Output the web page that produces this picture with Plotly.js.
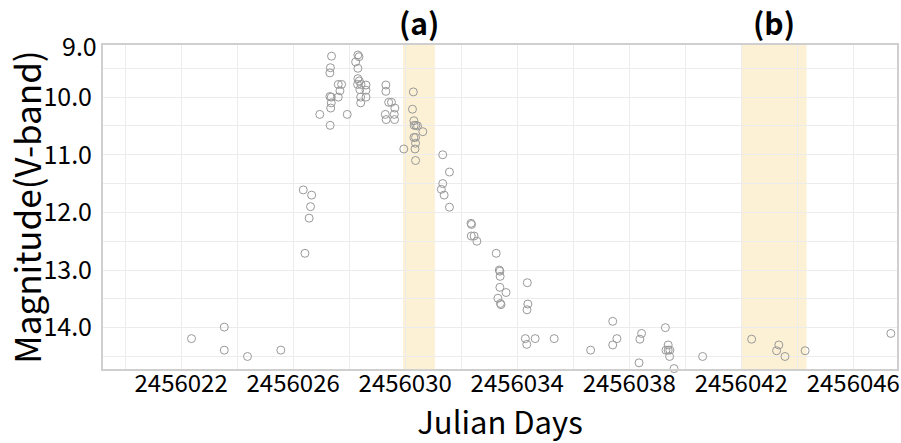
<!DOCTYPE html>
<html>
<head>
<meta charset="utf-8">
<script src="https://cdn.plot.ly/plotly-3.0.1.min.js"></script>
<style>html,body{margin:0;padding:0;background:#fff;}#chart{width:901px;height:443px;}</style>
</head>
<body>
<div id="chart"></div>
<script>
// Julian Days of the observations
const julianDays = [
  2456022.37, 2456023.54, 2456023.54, 2456024.37, 2456025.56,
  2456026.36, 2456026.66, 2456026.62, 2456026.57, 2456026.42,
  2456026.95, 2456027.37, 2456027.33, 2456027.31, 2456027.61, 2456027.73, 2456027.67,
  2456027.31, 2456027.36, 2456027.61, 2456027.36, 2456027.34, 2456027.32, 2456027.93,
  2456028.30, 2456028.31, 2456028.35, 2456028.23, 2456028.31, 2456028.31, 2456028.36,
  2456028.30, 2456028.42, 2456028.60, 2456028.38, 2456028.60, 2456028.41, 2456028.60, 2456028.41,
  2456029.31, 2456029.31, 2456029.41, 2456029.51, 2456029.63, 2456029.61, 2456029.29, 2456029.32, 2456029.62,
  2456029.95, 2456030.29, 2456030.26, 2456030.31, 2456030.32, 2456030.38, 2456030.44, 2456030.63,
  2456030.31, 2456030.37, 2456030.37, 2456030.35, 2456030.37,
  2456031.34, 2456031.58, 2456031.34, 2456031.29, 2456031.39, 2456031.58,
  2456032.35, 2456032.37, 2456032.36, 2456032.46, 2456032.56,
  2456033.25, 2456033.36, 2456033.38, 2456033.39, 2456033.38, 2456033.60, 2456033.31, 2456033.40, 2456033.42,
  2456034.36, 2456034.38, 2456034.35, 2456034.29, 2456034.34, 2456034.64, 2456035.32,
  2456036.62, 2456037.41, 2456037.56, 2456037.41, 2456038.44, 2456038.38, 2456038.35,
  2456039.29, 2456039.39, 2456039.31, 2456039.39, 2456039.45, 2456039.44, 2456039.60,
  2456040.62, 2456042.37, 2456043.34, 2456043.26, 2456043.56, 2456044.28, 2456047.34
];
// V-band magnitudes
const magnitudes = [
  14.19, 13.99, 14.39, 14.50, 14.39,
  11.61, 11.70, 11.90, 12.10, 12.71,
  10.30, 9.29, 9.49, 9.58, 9.78, 9.78, 9.89,
  9.99, 10.00, 10.00, 10.10, 10.19, 10.49, 10.30,
  9.08, 9.27, 9.30, 9.39, 9.50, 9.68, 9.72,
  9.78, 9.78, 9.79, 9.87, 9.88, 10.00, 10.00, 10.10,
  9.79, 9.90, 10.09, 10.09, 10.19, 10.30, 10.30, 10.39, 10.39,
  10.90, 9.91, 10.21, 10.41, 10.49, 10.49, 10.50, 10.60,
  10.70, 10.70, 10.80, 10.90, 11.10,
  11.00, 11.30, 11.50, 11.60, 11.70, 11.91,
  12.19, 12.21, 12.41, 12.41, 12.50,
  12.71, 13.00, 13.02, 13.11, 13.30, 13.39, 13.49, 13.58, 13.60,
  13.22, 13.59, 13.69, 14.19, 14.29, 14.19, 14.19,
  14.39, 13.89, 14.19, 14.30, 14.10, 14.20, 14.61,
  14.00, 14.30, 14.39, 14.39, 14.39, 14.50, 14.71,
  14.50, 14.20, 14.30, 14.40, 14.50, 14.40, 14.10
];
// Highlighted intervals
const bandLabels = ["(a)", "(b)"];
const bandStart = [2456029.92, 2456041.99];
const bandEnd = [2456031.06, 2456044.33];
// Axis ticks
const xTickVals = [2456022, 2456026, 2456030, 2456034, 2456038, 2456042, 2456046];
const yTickVals = [10, 11, 12, 13, 14];
const yTopLabel = "9.0";

const FONT = '"Noto Sans CJK JP", "Noto Sans", sans-serif';

const trace = {
  x: julianDays,
  y: magnitudes,
  type: 'scatter',
  mode: 'markers',
  cliponaxis: false,
  marker: {symbol: 'circle-open', size: 8, color: '#999999', line: {width: 1, color: '#999999'}},
  hoverinfo: 'x+y'
};

const shapes = bandStart.map((s, i) => ({
  type: 'rect', xref: 'x', yref: 'paper', x0: s, x1: bandEnd[i], y0: 0, y1: 1,
  fillcolor: '#fcf1d4', line: {width: 0}, layer: 'between'
}));

const annotations = bandLabels.map((t, i) => ({
  text: t, xref: 'x', yref: 'paper', x: (bandStart[i] + bandEnd[i]) / 2, y: 1.07,
  xanchor: 'center', yanchor: 'middle', showarrow: false,
  font: {family: FONT, size: 30, color: '#000', weight: 'bold'}
}));
annotations.push({
  text: yTopLabel, xref: 'paper', yref: 'paper', x: 0, y: 1, xanchor: 'right', yanchor: 'middle',
  xshift: -4, showarrow: false, font: {family: FONT, size: 25, color: '#000'}
});

const layout = {
  width: 901, height: 443,
  margin: {l: 103, r: 4, t: 45, b: 74},
  paper_bgcolor: '#fff', plot_bgcolor: '#fff',
  showlegend: false,
  font: {family: FONT, color: '#000'},
  xaxis: {
    range: [2456019.21, 2456047.56],
    tickmode: 'array', tickvals: xTickVals, ticktext: xTickVals.map(String),
    showgrid: true, gridcolor: '#ececec', gridwidth: 1,
    minor: {dtick: 2, tick0: 2456020, showgrid: true, gridcolor: '#ececec', gridwidth: 1},
    zeroline: false,
    showline: true, linecolor: '#cfcfcf', linewidth: 2, mirror: true,
    ticks: '', ticklabelstandoff: -8, ticklabeloverflow: 'allow',
    tickfont: {family: FONT, size: 24, color: '#000'},
    title: {text: 'Julian Days', font: {family: FONT, size: 31, color: '#000'}, standoff: 16}
  },
  yaxis: {
    range: [14.717, 9.096],
    tickmode: 'array', tickvals: yTickVals, ticktext: yTickVals.map(v => v.toFixed(1)),
    showgrid: true, gridcolor: '#ececec', gridwidth: 1,
    minor: {dtick: 0.5, tick0: 9, showgrid: true, gridcolor: '#ececec', gridwidth: 1},
    zeroline: false,
    showline: true, linecolor: '#cfcfcf', linewidth: 2, mirror: true,
    ticks: '', ticklabelstandoff: 4,
    tickfont: {family: FONT, size: 25, color: '#000'},
    title: {text: 'Magnitude(V-band)', font: {family: FONT, size: 35, color: '#000'}, standoff: 2}
  },
  shapes: shapes,
  annotations: annotations
};

Plotly.newPlot('chart', [trace], layout, {displayModeBar: false, staticPlot: true});
</script>
</body>
</html>
